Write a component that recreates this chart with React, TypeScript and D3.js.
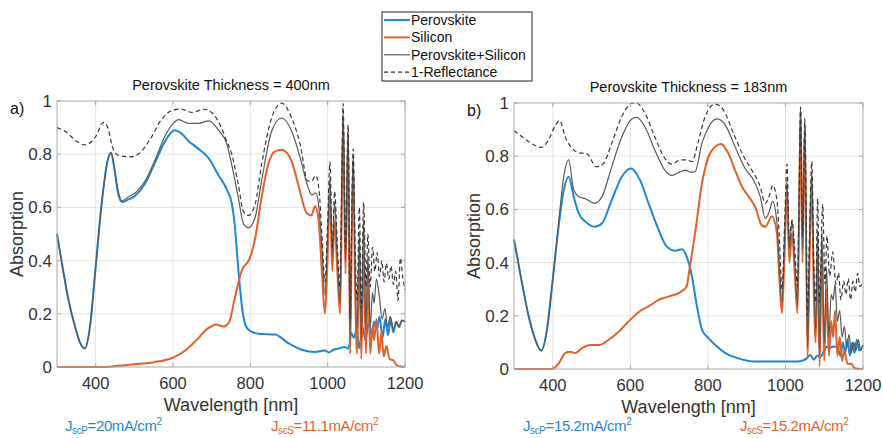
import React from 'react';
import * as d3 from 'd3';

type Pt = [number, number];

// Perovskite thickness = 400 nm
const perovskiteA: Pt[] = [
  [300, 0.5], [315, 0.37], [330, 0.25], [347, 0.15], [360, 0.09], [372, 0.07], [386, 0.16], [399, 0.36],
  [416, 0.62], [430, 0.77], [440, 0.805], [448, 0.75], [457, 0.66], [468, 0.62], [485, 0.63], [503, 0.645],
  [528, 0.69], [554, 0.77], [580, 0.85], [604, 0.89], [620, 0.88], [640, 0.85], [666, 0.82], [692, 0.785],
  [718, 0.72], [740, 0.665], [752, 0.615], [760, 0.53], [766, 0.42], [773, 0.3], [782, 0.19], [795, 0.14],
  [821, 0.125], [864, 0.122], [898, 0.09], [933, 0.065], [967, 0.056], [993, 0.062], [1003, 0.055],
  [1015, 0.065], [1030, 0.07], [1045, 0.075], [1052, 0.07], [1056, 0.08], [1060, 0.13], [1068, 0.11],
  [1075, 0.14], [1082, 0.07], [1090, 0.15], [1098, 0.1], [1106, 0.17], [1113, 0.12], [1120, 0.17],
  [1127, 0.14], [1134, 0.19], [1142, 0.11], [1149, 0.18], [1156, 0.12], [1163, 0.18], [1170, 0.13],
  [1177, 0.17], [1184, 0.15], [1192, 0.175], [1200, 0.17],
];
const siliconA: Pt[] = [
  [300, 0], [420, 0], [450, 0.003], [500, 0.01], [550, 0.018], [600, 0.035], [630, 0.06], [660, 0.1],
  [690, 0.145], [712, 0.16], [730, 0.152], [745, 0.168], [760, 0.26], [777, 0.36], [799, 0.41], [812, 0.48],
  [829, 0.636], [846, 0.76], [863, 0.81], [881, 0.817], [907, 0.773], [924, 0.685], [946, 0.578], [958, 0.57],
  [967, 0.604], [976, 0.56], [985, 0.36], [993, 0.2], [1000, 0.42], [1006, 0.65], [1012, 0.36], [1018, 0.55],
  [1025, 0.36], [1032, 0.2], [1036, 0.55], [1040, 0.93], [1046, 0.35], [1053, 0.86], [1058, 0.05],
  [1062, 0.45], [1066, 0.76], [1071, 0.3], [1076, 0.05], [1082, 0.42], [1087, 0.03], [1093, 0.43],
  [1099, 0.05], [1104, 0.35], [1110, 0.05], [1116, 0.15], [1120, 0.1], [1126, 0.18], [1133, 0.05],
  [1139, 0.13], [1145, 0.04], [1152, 0.08], [1160, 0.03], [1170, 0.025], [1180, 0.005], [1200, 0],
];
const totalA: Pt[] = [
  [300, 0.5], [315, 0.37], [330, 0.25], [347, 0.15], [360, 0.09], [372, 0.07], [386, 0.16], [399, 0.36],
  [416, 0.62], [430, 0.77], [440, 0.805], [448, 0.75], [457, 0.67], [468, 0.625], [485, 0.64], [503, 0.655],
  [528, 0.7], [554, 0.78], [580, 0.87], [600, 0.915], [615, 0.93], [640, 0.916], [666, 0.916], [692, 0.925],
  [718, 0.89], [740, 0.835], [752, 0.76], [769, 0.636], [782, 0.54], [795, 0.523], [812, 0.56], [829, 0.698],
  [855, 0.886], [881, 0.936], [907, 0.886], [929, 0.786], [950, 0.673], [959, 0.647], [969, 0.655],
  [978, 0.59], [985, 0.45], [993, 0.27], [1000, 0.5], [1006, 0.71], [1012, 0.42], [1018, 0.62], [1025, 0.42],
  [1032, 0.24], [1036, 0.6], [1040, 0.96], [1046, 0.4], [1053, 0.89], [1058, 0.1], [1062, 0.5], [1066, 0.8],
  [1071, 0.35], [1076, 0.14], [1082, 0.5], [1087, 0.1], [1093, 0.55], [1099, 0.14], [1104, 0.42],
  [1110, 0.15], [1116, 0.28], [1120, 0.24], [1126, 0.33], [1134, 0.26], [1141, 0.18], [1148, 0.22],
  [1155, 0.15], [1162, 0.19], [1170, 0.14], [1177, 0.17], [1185, 0.15], [1192, 0.175], [1200, 0.17],
];
const reflA: Pt[] = [
  [300, 0.9], [322, 0.885], [350, 0.85], [372, 0.835], [400, 0.866], [420, 0.92], [430, 0.905], [445, 0.82],
  [460, 0.795], [490, 0.79], [510, 0.8], [540, 0.854], [570, 0.93], [600, 0.966], [620, 0.97], [650, 0.957],
  [680, 0.969], [700, 0.957], [725, 0.9], [740, 0.845], [752, 0.8], [769, 0.685], [782, 0.585], [795, 0.57],
  [812, 0.61], [829, 0.76], [855, 0.936], [881, 0.992], [907, 0.936], [929, 0.836], [948, 0.7], [958, 0.698],
  [969, 0.72], [978, 0.66], [985, 0.5], [993, 0.32], [1000, 0.55], [1006, 0.77], [1012, 0.45], [1018, 0.66],
  [1025, 0.46], [1031, 0.3], [1036, 0.65], [1040, 0.99], [1046, 0.45], [1053, 0.91], [1058, 0.18],
  [1062, 0.55], [1066, 0.82], [1071, 0.45], [1076, 0.25], [1082, 0.6], [1087, 0.22], [1093, 0.62],
  [1099, 0.3], [1104, 0.5], [1110, 0.3], [1116, 0.45], [1122, 0.36], [1128, 0.43], [1134, 0.34],
  [1140, 0.4], [1146, 0.32], [1152, 0.39], [1158, 0.33], [1164, 0.38], [1170, 0.31], [1176, 0.36],
  [1182, 0.25], [1188, 0.41], [1194, 0.34], [1200, 0.29],
];

// Perovskite thickness = 183 nm
const perovskiteB: Pt[] = [
  [300, 0.487], [321, 0.32], [338, 0.197], [355, 0.11], [370, 0.069], [385, 0.147], [398, 0.31], [415, 0.535],
  [428, 0.67], [441, 0.723], [454, 0.648], [467, 0.585], [484, 0.554], [508, 0.535], [527, 0.548],
  [552, 0.635], [578, 0.723], [602, 0.754], [625, 0.71], [647, 0.623], [673, 0.523], [694, 0.46],
  [715, 0.445], [733, 0.45], [746, 0.42], [759, 0.347], [772, 0.234], [785, 0.147], [802, 0.115],
  [819, 0.09], [845, 0.06], [879, 0.04], [922, 0.028], [991, 0.028], [1030, 0.028], [1045, 0.032],
  [1055, 0.04], [1064, 0.053], [1073, 0.035], [1082, 0.05], [1090, 0.045], [1100, 0.07], [1107, 0.084],
  [1115, 0.08], [1124, 0.085], [1135, 0.08], [1142, 0.05], [1148, 0.1], [1154, 0.06], [1160, 0.11],
  [1166, 0.05], [1172, 0.1], [1178, 0.06], [1184, 0.11], [1190, 0.07], [1200, 0.09],
];
const siliconB: Pt[] = [
  [300, 0], [398, 0], [415, 0.02], [432, 0.06], [445, 0.065], [458, 0.06], [475, 0.078], [497, 0.09],
  [520, 0.09], [544, 0.11], [570, 0.14], [595, 0.178], [627, 0.22], [647, 0.235], [673, 0.26], [698, 0.272],
  [730, 0.29], [745, 0.31], [752, 0.37], [767, 0.51], [785, 0.7], [802, 0.8], [819, 0.836], [834, 0.846],
  [853, 0.81], [870, 0.748], [888, 0.685], [905, 0.648], [922, 0.61], [939, 0.54], [948, 0.535],
  [965, 0.573], [978, 0.51], [984, 0.35], [991, 0.21], [998, 0.45], [1004, 0.66], [1010, 0.4], [1017, 0.51],
  [1024, 0.36], [1031, 0.21], [1035, 0.55], [1039, 0.97], [1044, 0.4], [1050, 0.9], [1057, 0.04],
  [1062, 0.4], [1068, 0.7], [1073, 0.3], [1078, 0.1], [1083, 0.45], [1088, 0.01], [1094, 0.45],
  [1100, 0.03], [1106, 0.3], [1112, 0.05], [1118, 0.18], [1123, 0.12], [1128, 0.22], [1134, 0.05],
  [1140, 0.12], [1146, 0.03], [1152, 0.07], [1160, 0.02], [1170, 0.02], [1178, 0.003], [1200, 0],
];
const totalB: Pt[] = [
  [300, 0.487], [321, 0.32], [338, 0.197], [355, 0.11], [370, 0.069], [385, 0.147], [398, 0.31], [415, 0.55],
  [428, 0.72], [441, 0.786], [454, 0.673], [467, 0.648], [484, 0.64], [508, 0.623], [527, 0.648],
  [552, 0.76], [578, 0.873], [604, 0.94], [616, 0.946], [638, 0.91], [663, 0.823], [689, 0.748],
  [706, 0.728], [730, 0.742], [742, 0.748], [755, 0.74], [767, 0.742], [785, 0.85], [802, 0.91],
  [823, 0.94], [845, 0.917], [870, 0.836], [896, 0.754], [918, 0.71], [935, 0.648], [948, 0.566],
  [958, 0.59], [967, 0.63], [978, 0.55], [984, 0.4], [991, 0.25], [998, 0.5], [1004, 0.71], [1010, 0.45],
  [1017, 0.56], [1024, 0.4], [1031, 0.24], [1035, 0.6], [1039, 0.98], [1044, 0.45], [1050, 0.93],
  [1057, 0.08], [1062, 0.45], [1068, 0.74], [1073, 0.35], [1078, 0.15], [1083, 0.52], [1088, 0.05],
  [1094, 0.52], [1100, 0.1], [1106, 0.38], [1112, 0.12], [1118, 0.28], [1123, 0.26], [1128, 0.32],
  [1134, 0.18], [1140, 0.22], [1146, 0.12], [1152, 0.16], [1158, 0.08], [1164, 0.13], [1170, 0.06],
  [1176, 0.1], [1182, 0.07], [1188, 0.11], [1194, 0.07], [1200, 0.09],
];
const reflB: Pt[] = [
  [300, 0.896], [321, 0.873], [352, 0.842], [370, 0.833], [389, 0.861], [406, 0.914], [418, 0.934],
  [432, 0.873], [455, 0.823], [467, 0.813], [487, 0.81], [513, 0.76], [531, 0.773], [552, 0.848],
  [578, 0.949], [604, 0.999], [616, 1.0], [638, 0.961], [663, 0.873], [689, 0.792], [706, 0.77],
  [730, 0.786], [745, 0.786], [759, 0.78], [776, 0.86], [793, 0.949], [819, 0.996], [840, 0.974],
  [866, 0.886], [892, 0.8], [913, 0.748], [935, 0.685], [948, 0.623], [958, 0.65], [967, 0.69],
  [978, 0.635], [984, 0.5], [991, 0.3], [998, 0.55], [1004, 0.77], [1010, 0.48], [1017, 0.56],
  [1024, 0.45], [1031, 0.31], [1035, 0.65], [1039, 0.985], [1044, 0.5], [1050, 0.94], [1057, 0.2],
  [1062, 0.5], [1068, 0.78], [1073, 0.4], [1078, 0.25], [1083, 0.64], [1088, 0.25], [1096, 0.62],
  [1102, 0.32], [1107, 0.5], [1114, 0.35], [1122, 0.44], [1130, 0.32], [1137, 0.36], [1143, 0.26],
  [1150, 0.33], [1156, 0.28], [1162, 0.34], [1168, 0.26], [1174, 0.33], [1180, 0.29], [1186, 0.36],
  [1192, 0.31], [1200, 0.33],
];

const xTicks = [400, 600, 800, 1000, 1200];
const yTicks = [0, 0.2, 0.4, 0.6, 0.8, 1];
const legendLabels = ['Perovskite', 'Silicon', 'Perovskite+Silicon', '1-Reflectance'];

const BLUE = '#1f87d2';
const ORANGE = '#e0622b';
const GRAY = '#5a5a5a';
const FONT = '"Liberation Sans", Arial, sans-serif';

// J_sc label with subscript and cm^2 superscript
const Jsc = ({ x, y, color, sub, value }: any) => (
  <text x={x} y={y} fill={color} fontSize={15} fontFamily={FONT} letterSpacing={-0.4}>
    J
    <tspan fontSize={10} dy={3}>{sub}</tspan>
    <tspan dy={-3}>{value}</tspan>
    <tspan fontSize={10} dy={-6}>2</tspan>
  </text>
);

const Panel = ({ x0, x1, y0, y1, data, title, tag, jP, jS }: any) => {
  const x = d3.scaleLinear().domain([300, 1200]).range([x0, x1]);
  const y = d3.scaleLinear().domain([0, 1]).range([y0, y1]);
  const line = d3.line<Pt>().x(d => x(d[0])).y(d => y(d[1])).curve(d3.curveMonotoneX);
  const cx = (x0 + x1) / 2;
  return (
    <g fontFamily={FONT}>
      {xTicks.slice(0, -1).map(t => (
        <line key={'gx' + t} x1={x(t)} x2={x(t)} y1={y0} y2={y1} stroke="#e4e4e4" />
      ))}
      {yTicks.slice(1, -1).map(t => (
        <line key={'gy' + t} x1={x0} x2={x1} y1={y(t)} y2={y(t)} stroke="#e4e4e4" />
      ))}
      <path d={line(data.perovskite) || ''} fill="none" stroke={BLUE} strokeWidth={2} />
      <path d={line(data.silicon) || ''} fill="none" stroke={ORANGE} strokeWidth={2} />
      <path d={line(data.total) || ''} fill="none" stroke={GRAY} strokeWidth={1.2} />
      <path d={line(data.refl) || ''} fill="none" stroke="#3a3a3a" strokeWidth={1.2} strokeDasharray="4.5,3" />
      <rect x={x0} y={y1} width={x1 - x0} height={y0 - y1} fill="none" stroke="#a8a8a8" />
      {xTicks.map(t => (
        <g key={'tx' + t}>
          <line x1={x(t)} x2={x(t)} y1={y0} y2={y0 - 4} stroke="#a8a8a8" />
          <line x1={x(t)} x2={x(t)} y1={y1} y2={y1 + 4} stroke="#a8a8a8" />
          <text x={x(t)} y={y0 + 22} textAnchor="middle" fontSize={16.5} fill="#333">{t}</text>
        </g>
      ))}
      {yTicks.map(t => (
        <g key={'ty' + t}>
          <line x1={x0} x2={x0 + 4} y1={y(t)} y2={y(t)} stroke="#a8a8a8" />
          <line x1={x1} x2={x1 - 4} y1={y(t)} y2={y(t)} stroke="#a8a8a8" />
          <text x={x0 - 5} y={y(t) + 6} textAnchor="end" fontSize={17} fill="#333">{d3.format('~g')(t)}</text>
        </g>
      ))}
      <text x={cx} y={y1 - 11} textAnchor="middle" fontSize={14.5} fill="#111">{title}</text>
      <text x={x0 - 47} y={y1 + 13} fontSize={16} fill="#111">{tag}</text>
      <text transform={`translate(${x0 - 34},${(y0 + y1) / 2}) rotate(-90)`} textAnchor="middle" fontSize={18} fill="#333">Absorption</text>
      <text x={cx} y={y0 + 44} textAnchor="middle" fontSize={18} fill="#333">Wavelength [nm]</text>
      <Jsc x={jP.x} y={431} color={BLUE} sub="scP" value={jP.v} />
      <Jsc x={jS.x} y={431} color={ORANGE} sub="scS" value={jS.v} />
    </g>
  );
};

const Legend = () => {
  const colors = [BLUE, ORANGE, GRAY, '#333'];
  return (
    <g fontFamily={FONT}>
      <rect x={382} y={12} width={150} height={69} fill="#fff" stroke="#222" />
      {legendLabels.map((l, i) => (
        <g key={l}>
          <line x1={384} x2={410} y1={20 + i * 17.4} y2={20 + i * 17.4} stroke={colors[i]}
            strokeWidth={i < 2 ? 2 : 1.2} strokeDasharray={i === 3 ? '4,3' : undefined} />
          <text x={411} y={25 + i * 17.4} fontSize={14} fill="#111">{l}</text>
        </g>
      ))}
    </g>
  );
};

export default function App() {
  return (
    <svg width={883} height={438} style={{ position: 'absolute', left: 0, top: 0, background: '#fff' }}>
      <Panel x0={57} x1={405} y0={367} y1={101}
        data={{ perovskite: perovskiteA, silicon: siliconA, total: totalA, refl: reflA }}
        title="Perovskite Thickness = 400nm" tag="a)"
        jP={{ x: 65, v: '=20mA/cm' }} jS={{ x: 271, v: '=11.1mA/cm' }} />
      <Panel x0={514} x1={863} y0={369} y1={103}
        data={{ perovskite: perovskiteB, silicon: siliconB, total: totalB, refl: reflB }}
        title="Perovskite Thickness = 183nm" tag="b)"
        jP={{ x: 523, v: '=15.2mA/cm' }} jS={{ x: 740, v: '=15.2mA/cm' }} />
      <Legend />
    </svg>
  );
}
